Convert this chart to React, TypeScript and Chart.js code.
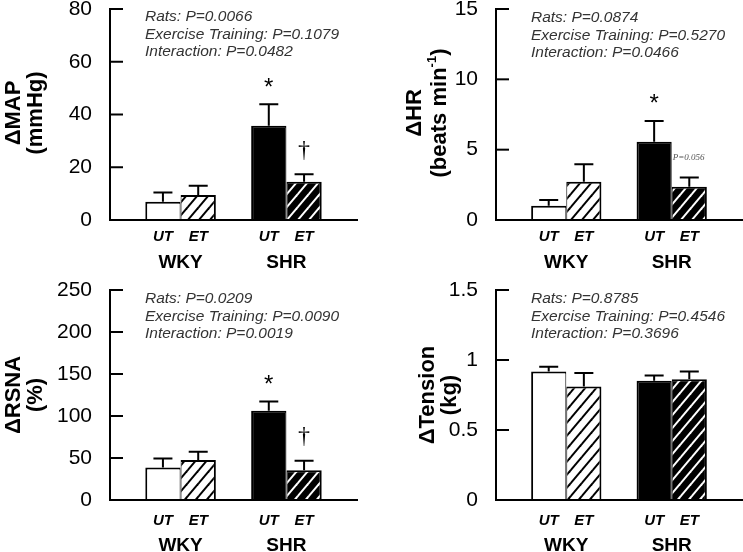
import { useEffect, useRef } from 'react';
import { Chart, registerables } from 'chart.js';
Chart.register(...registerables);

// ---------- data ----------
const categories = ['', 'UT', 'ET', '', 'UT', 'ET', ''];
const barSlots = [1, 2, 4, 5];
const groupLabels = ['WKY', 'SHR'];

const mapMean = [6.9, 9.5, 35.7, 14.5];
const mapSem = [3.5, 3.5, 8.2, 2.8];
const mapTicks = [0, 20, 40, 60, 80];
const mapStats = ['Rats: P=0.0066', 'Exercise Training: P=0.1079', 'Interaction: P=0.0482'];
const mapMarks = ['', '', '*', '†'];

const hrMean = [1.02, 2.72, 5.57, 2.37];
const hrSem = [0.4, 1.24, 1.47, 0.66];
const hrTicks = [0, 5, 10, 15];
const hrStats = ['Rats: P=0.0874', 'Exercise Training: P=0.5270', 'Interaction: P=0.0466'];
const hrMarks = ['', '', '*', 'P=0.056'];

const rsnaMean = [38.8, 47.5, 106.2, 35.3];
const rsnaSem = [10.7, 10.0, 11.1, 11.5];
const rsnaTicks = [0, 50, 100, 150, 200, 250];
const rsnaStats = ['Rats: P=0.0209', 'Exercise Training: P=0.0090', 'Interaction: P=0.0019'];
const rsnaMarks = ['', '', '*', '†'];

const tensionMean = [0.918, 0.811, 0.851, 0.863];
const tensionSem = [0.033, 0.097, 0.038, 0.055];
const tensionTicks = [0, 0.5, 1, 1.5];
const tensionStats = ['Rats: P=0.8785', 'Exercise Training: P=0.4546', 'Interaction: P=0.3696'];
const tensionMarks = ['', '', '', ''];

type Seg = { t: string; sup?: boolean };
const mapTitle: Seg[][] = [[{ t: 'ΔMAP' }], [{ t: '(mmHg)' }]];
const hrTitle: Seg[][] = [[{ t: 'ΔHR' }], [{ t: '(beats min' }, { t: '-1', sup: true }, { t: ')' }]];
const rsnaTitle: Seg[][] = [[{ t: 'ΔRSNA' }], [{ t: '(%)' }]];
const tensionTitle: Seg[][] = [[{ t: 'ΔTension' }], [{ t: '(kg)' }]];

// ---------- layout / style ----------
const SANS = '"Liberation Sans", Arial, sans-serif';
const SERIF = '"Liberation Serif", "Times New Roman", serif';

const panels = [
  { key: 'map', mean: mapMean, sem: mapSem, ticks: mapTicks, stats: mapStats, marks: mapMarks, title: mapTitle,
    left: 0, top: 0, w: 372, h: 276, padTop: 9, padRight: 15, yW: 110, xH: 56,
    titleX: [14, 36], titleY: 113, statsY: [17, 34.5, 52], labelPad: 8, groupDy: 41.5 },
  { key: 'hr', mean: hrMean, sem: hrSem, ticks: hrTicks, stats: hrStats, marks: hrMarks, title: hrTitle,
    left: 372, top: 0, w: 371, h: 276, padTop: 9, padRight: 1, yW: 124, xH: 56,
    titleX: [43, 68], titleY: 113, statsY: [18, 35.5, 53], labelPad: 8, groupDy: 41.5 },
  { key: 'rsna', mean: rsnaMean, sem: rsnaSem, ticks: rsnaTicks, stats: rsnaStats, marks: rsnaMarks, title: rsnaTitle,
    left: 0, top: 276, w: 372, h: 276, padTop: 14, padRight: 15, yW: 110, xH: 52,
    titleX: [14, 36], titleY: 119, statsY: [23, 40.5, 58], labelPad: 12, groupDy: 44 },
  { key: 'tension', mean: tensionMean, sem: tensionSem, ticks: tensionTicks, stats: tensionStats, marks: tensionMarks, title: tensionTitle,
    left: 372, top: 276, w: 371, h: 276, padTop: 14, padRight: 1, yW: 124, xH: 52,
    titleX: [56, 78], titleY: 119, statsY: [23, 40.5, 58], labelPad: 12, groupDy: 44 },
];

function makeHatch(ctx: CanvasRenderingContext2D, bg: string, fg: string) {
  const w = 11, h = 13;
  const c = document.createElement('canvas');
  c.width = w; c.height = h;
  const g = c.getContext('2d')!;
  g.fillStyle = bg; g.fillRect(0, 0, w, h);
  g.strokeStyle = fg; g.lineWidth = 2;
  for (const n of [0, 1, 2]) {
    g.beginPath();
    g.moveTo((n - 2) * w, 2 * h);
    g.lineTo((n + 2) * w, -2 * h);
    g.stroke();
  }
  return ctx.createPattern(c, 'repeat')!;
}

function drawCentered(ctx: CanvasRenderingContext2D, s: string, cx: number, cy: number) {
  ctx.textAlign = 'center';
  ctx.textBaseline = 'alphabetic';
  const m = ctx.measureText(s);
  ctx.fillText(s, cx, cy + (m.actualBoundingBoxAscent - m.actualBoundingBoxDescent) / 2);
}

function Panel({ spec }: { spec: any }) {
  const ref = useRef<HTMLCanvasElement>(null);
  useEffect(() => {
    const canvas = ref.current!;
    const ctx = canvas.getContext('2d')!;
    const fills: any[] = ['#ffffff', makeHatch(ctx, '#ffffff', '#000000'), '#000000', makeHatch(ctx, '#000000', '#ffffff')];
    const slotData: (number | null)[] = categories.map(() => null);
    const slotFill: any[] = categories.map(() => 'rgba(0,0,0,0)');
    barSlots.forEach((s, i) => { slotData[s] = spec.mean[i]; slotFill[s] = fills[i]; });

    const decor = {
      id: 'decor',
      afterDatasetsDraw(chart: any) {
        const c = chart.ctx as CanvasRenderingContext2D;
        const xs = chart.scales.x, ys = chart.scales.y;
        const area = chart.chartArea;
        const base = ys.getPixelForValue(0);
        c.save();
        // axes
        c.strokeStyle = '#000'; c.lineWidth = 2; c.lineCap = 'square';
        c.beginPath();
        c.moveTo(area.left, ys.getPixelForValue(spec.ticks[spec.ticks.length - 1]));
        c.lineTo(area.left, base);
        c.lineTo(area.right, base);
        c.stroke();
        c.lineCap = 'butt';
        // inward ticks
        spec.ticks.forEach((v: number) => {
          const py = ys.getPixelForValue(v);
          c.beginPath(); c.moveTo(area.left, py); c.lineTo(area.left + 13, py); c.stroke();
        });
        // error bars
        barSlots.forEach((s, i) => {
          const px = xs.getPixelForValue(s);
          const y0 = ys.getPixelForValue(spec.mean[i]);
          const y1 = ys.getPixelForValue(spec.mean[i] + spec.sem[i]);
          c.beginPath();
          c.moveTo(px, y0); c.lineTo(px, y1);
          c.moveTo(px - 9.5, y1); c.lineTo(px + 9.5, y1);
          c.stroke();
        });
        // significance marks
        const barW = xs.getPixelForValue(1) - xs.getPixelForValue(0);
        barSlots.forEach((s, i) => {
          const mk = spec.marks[i];
          if (!mk) return;
          const px = xs.getPixelForValue(s);
          const y1 = ys.getPixelForValue(spec.mean[i] + spec.sem[i]);
          c.fillStyle = '#000';
          if (mk === '*') {
            c.font = `24px ${SANS}`;
            drawCentered(c, mk, px, y1 - 22);
          } else if (mk === '†') {
            c.font = `24px ${SERIF}`;
            drawCentered(c, mk, px, y1 - 24);
          } else {
            c.font = `italic 9px ${SERIF}`;
            c.fillStyle = '#555';
            c.textAlign = 'left';
            c.textBaseline = 'middle';
            c.fillText(mk, px - barW / 2 + 1, y1 - 20);
          }
        });
        // stats text
        c.font = `italic 15.5px ${SANS}`;
        c.fillStyle = '#333';
        c.textAlign = 'left';
        c.textBaseline = 'middle';
        spec.stats.forEach((s: string, k: number) => c.fillText(s, area.left + 35, spec.statsY[k]));
        // group labels
        c.font = `bold 19px ${SANS}`;
        c.fillStyle = '#000';
        groupLabels.forEach((g, k) => {
          const gx = (xs.getPixelForValue(barSlots[2 * k]) + xs.getPixelForValue(barSlots[2 * k + 1])) / 2;
          drawCentered(c, g, gx, base + spec.groupDy);
        });
        // y title
        const fs = 22;
        spec.title.forEach((line: Seg[], li: number) => {
          c.save();
          c.translate(spec.titleX[li], spec.titleY);
          c.rotate(-Math.PI / 2);
          c.textBaseline = 'middle';
          c.textAlign = 'left';
          const widths = line.map((sg) => {
            c.font = `bold ${sg.sup ? 13 : fs}px ${SANS}`;
            return c.measureText(sg.t).width;
          });
          let x = -widths.reduce((a, b) => a + b, 0) / 2;
          line.forEach((sg, k) => {
            c.font = `bold ${sg.sup ? 13 : fs}px ${SANS}`;
            c.fillText(sg.t, x, sg.sup ? -8 : 0);
            x += widths[k];
          });
          c.restore();
        });
        c.restore();
      },
    };

    const chart = new Chart(canvas, {
      type: 'bar',
      data: {
        labels: categories,
        datasets: [{
          data: slotData,
          backgroundColor: slotFill,
          borderColor: '#000',
          borderWidth: (cx: any) => {
            const i = cx.dataIndex;
            const isUT = i === barSlots[0] || i === barSlots[2];
            return isUT ? { top: 2, left: 2, right: 1, bottom: 0 } : { top: 2, left: 1, right: 2, bottom: 0 };
          },
          borderSkipped: 'start',
          barPercentage: 1,
          categoryPercentage: 1,
          inflateAmount: 0,
        } as any],
      },
      options: {
        animation: false,
        responsive: false,
        events: [],
        layout: { padding: { top: spec.padTop, right: spec.padRight, left: 0, bottom: 0 } },
        plugins: { legend: { display: false }, tooltip: { enabled: false } },
        scales: {
          x: {
            type: 'category',
            offset: true,
            grid: { display: false, drawTicks: false },
            border: { display: false },
            ticks: {
              autoSkip: false, maxRotation: 0, minRotation: 0, padding: spec.labelPad, color: '#000',
              font: { family: SANS, size: 15, weight: 'bold', style: 'italic' },
            },
            afterFit: (s: any) => { s.height = spec.xH; s.paddingLeft = 0; s.paddingRight = 0; },
          },
          y: {
            type: 'linear',
            min: spec.ticks[0],
            max: spec.ticks[spec.ticks.length - 1],
            grid: { display: false, drawTicks: false },
            border: { display: false },
            afterBuildTicks: (s: any) => { s.ticks = spec.ticks.map((v: number) => ({ value: v })); },
            ticks: {
              padding: 18, color: '#000',
              font: { family: SANS, size: 21 },
              callback: (v: any) => String(v),
            },
            afterFit: (s: any) => { s.width = spec.yW; s.paddingTop = 0; s.paddingBottom = 0; },
          },
        },
      } as any,
      plugins: [decor],
    });
    return () => chart.destroy();
  }, []);
  return (
    <canvas
      ref={ref}
      width={spec.w}
      height={spec.h}
      style={{ position: 'absolute', left: spec.left, top: spec.top, width: spec.w, height: spec.h }}
    />
  );
}

export default function App() {
  return (
    <div style={{ position: 'absolute', left: 0, top: 0, width: 743, height: 552, background: '#fff' }}>
      {panels.map((p) => <Panel key={p.key} spec={p} />)}
    </div>
  );
}
